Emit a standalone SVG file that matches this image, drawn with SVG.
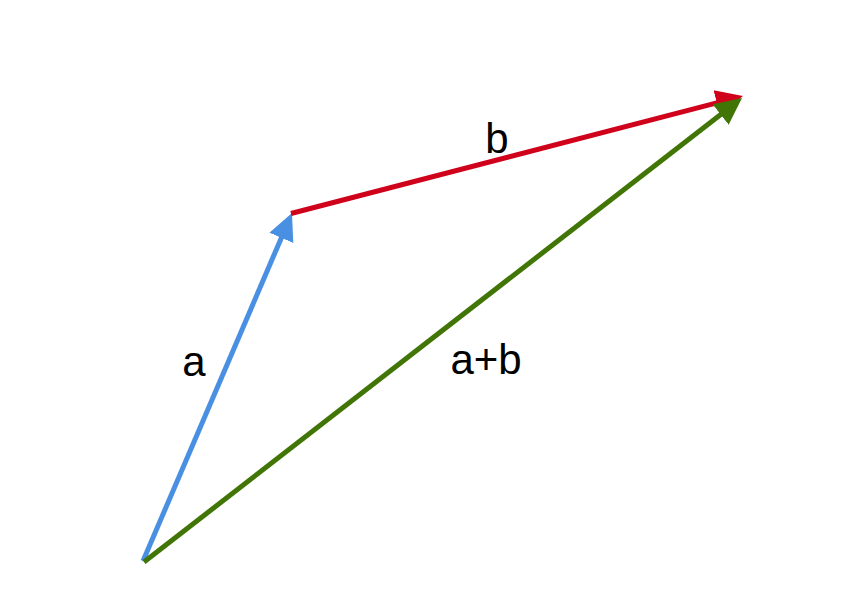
<svg xmlns="http://www.w3.org/2000/svg" width="848" height="604" viewBox="0 0 848 604">
  <style>
    .edge { fill: none; stroke-width: 5; stroke-linecap: butt; }
    .lbl { font-family: "Liberation Sans", Arial, sans-serif; font-size: 42px; fill: #000000; text-anchor: middle; }
  </style>
  <defs>
    <marker id="headBlue" markerUnits="userSpaceOnUse" markerWidth="28" markerHeight="28" viewBox="0 0 28 28" refX="7" refY="14" orient="auto">
      <path d="M0,1 L27,14 L0,27 z" fill="#4A90E2"/>
    </marker>
    <marker id="headRed" markerUnits="userSpaceOnUse" markerWidth="28" markerHeight="28" viewBox="0 0 28 28" refX="7" refY="14" orient="auto">
      <path d="M0,1 L27,14 L0,27 z" fill="#D0021B"/>
    </marker>
    <marker id="headGreen" markerUnits="userSpaceOnUse" markerWidth="28" markerHeight="28" viewBox="0 0 28 28" refX="7" refY="14" orient="auto">
      <path d="M0,1 L27,14 L0,27 z" fill="#417505"/>
    </marker>
  </defs>
  <rect width="848" height="604" fill="#ffffff"/>
  <g id="connectors">
    <line id="vec-a" class="edge" x1="143" y1="561" x2="284.1" y2="231.4" stroke="#4A90E2" marker-end="url(#headBlue)"/>
    <line id="vec-b" class="edge" x1="291" y1="213.5" x2="723.6" y2="101.1" stroke="#D0021B" marker-end="url(#headRed)"/>
    <line id="vec-ab" class="edge" x1="144" y1="562" x2="726.2" y2="110.3" stroke="#417505" marker-end="url(#headGreen)"/>
  </g>
  <g id="label-a"><text class="lbl" x="194" y="376">a</text></g>
  <g id="label-b"><text class="lbl" x="497" y="153">b</text></g>
  <g id="label-ab"><text class="lbl" x="486" y="374">a+b</text></g>
</svg>
